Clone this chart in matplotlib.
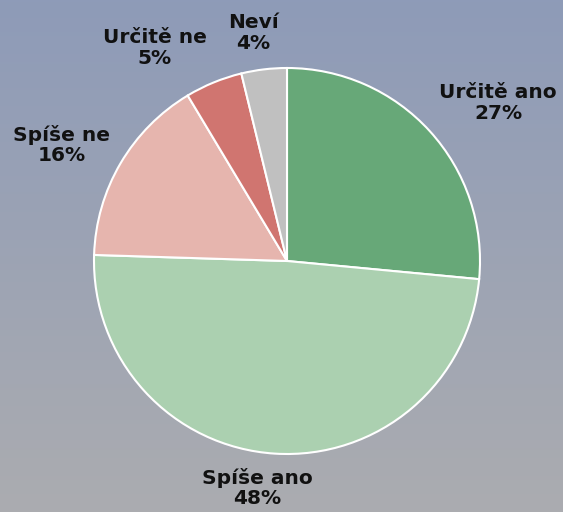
import numpy as np
import matplotlib
matplotlib.use("Agg")
import matplotlib.pyplot as plt
from matplotlib.colors import LinearSegmentedColormap

categories = ["Určitě ano", "Spíše ano", "Spíše ne", "Určitě ne", "Neví"]
# slice sizes
values = [26.5, 49.0, 15.9, 4.8, 3.8]
# percentages as printed on the chart
pct_labels = [27, 48, 16, 5, 4]
colors = ["#67a878", "#abd0b0", "#e6b5ae", "#d07570", "#c0c0c0"]
# label positions in pixel coordinates of the 563x512 image
label_px = [(498, 103), (257, 488), (62, 145), (155, 48), (253, 33)]

W, H = 563, 512
cx, cy, R = 287, 261, 193

fig = plt.figure(figsize=(W / 100, H / 100), dpi=100)

bg = fig.add_axes([0, 0, 1, 1], zorder=0)
grad = np.linspace(0, 1, 256).reshape(-1, 1)
cmap = LinearSegmentedColormap.from_list("bg", ["#8e9bb8", "#abacb0"])
bg.imshow(grad, aspect="auto", cmap=cmap, extent=[0, 1, 0, 1], origin="upper")
bg.axis("off")

ax = fig.add_axes([0, 0, 1, 1], zorder=1)
ax.patch.set_alpha(0)
ax.pie(values, colors=colors, startangle=90, counterclock=False,
       radius=1, center=(0, 0),
       wedgeprops=dict(edgecolor="white", linewidth=1.5))
ax.set_xlim((0 - cx) / R, (W - cx) / R)
ax.set_ylim(-(H - cy) / R, cy / R)
ax.set_aspect("auto")
ax.axis("off")

for cat, val, (px, py) in zip(categories, pct_labels, label_px):
    ax.text((px - cx) / R, (cy - py) / R, f"{cat}\n{val}%",
            ha="center", va="center", fontsize=14.5, fontweight="bold",
            family="DejaVu Sans", color="#111111", linespacing=1.12)

fig.savefig("out.png", dpi=100)
